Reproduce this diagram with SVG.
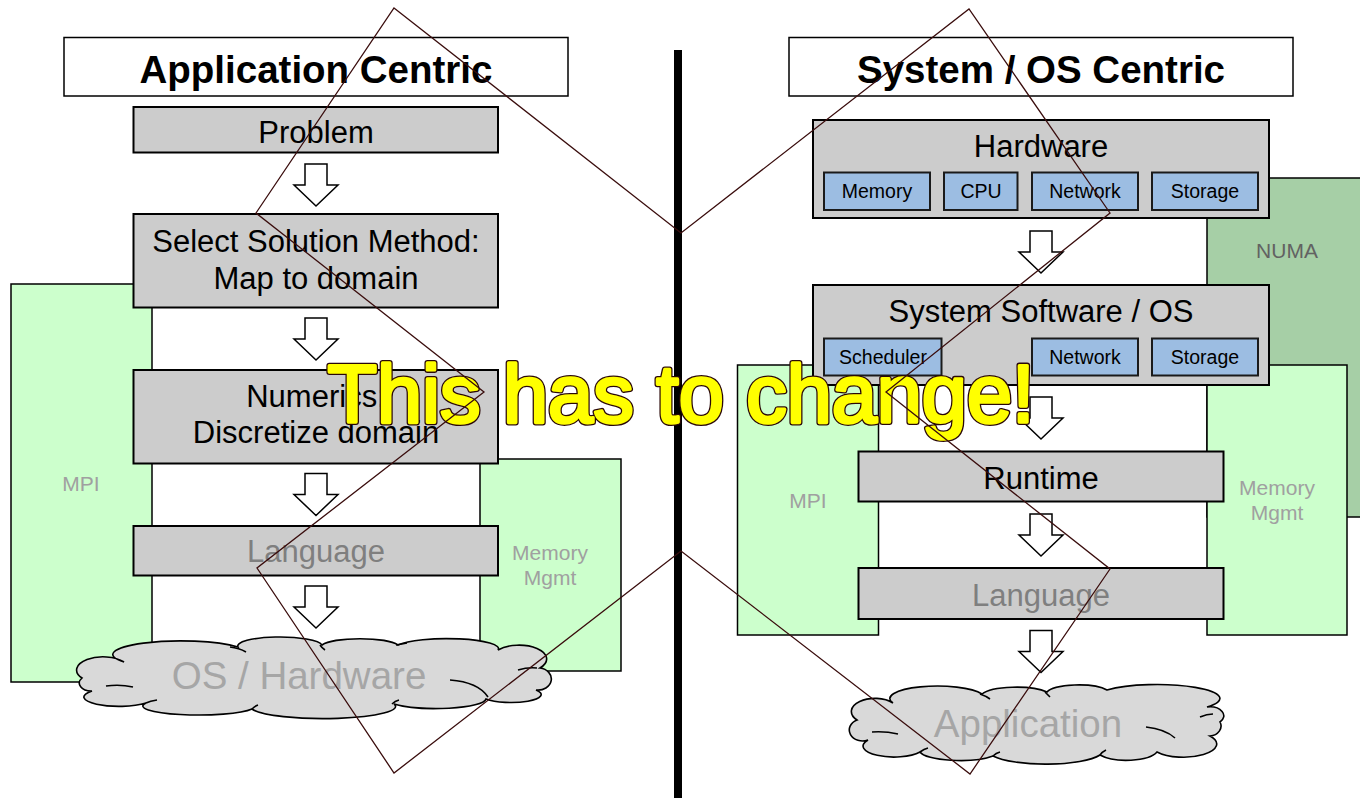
<svg xmlns="http://www.w3.org/2000/svg" width="1360" height="798" viewBox="0 0 1360 798">
  <defs>
    <style>
      text { font-family: 'Liberation Sans', Arial, sans-serif; }
      .title-box { fill: #ffffff; stroke: #000000; stroke-width: 1.5; }
      .title { font-size: 38.5px; font-weight: bold; fill: #000000; text-anchor: middle; }
      .step { fill: #cccccc; stroke: #000000; stroke-width: 2; }
      .step-label { font-size: 31px; fill: #000000; text-anchor: middle; }
      .step-label.dim { fill: #7f7f7f; }
      .part { fill: #9cbde2; stroke: #1a1a1a; stroke-width: 2; }
      .part-label { font-size: 19.5px; fill: #000000; text-anchor: middle; }
      .span { fill: #ccffcc; stroke: #000000; stroke-width: 1.5; }
      .numa { fill: #a6cfa6; stroke: #000000; stroke-width: 1.5; }
      .span-label { font-size: 21px; fill: #a0a0a0; text-anchor: middle; }
      .numa-label { font-size: 21px; fill: #626262; text-anchor: middle; }
      .flow { fill: #ffffff; stroke: #000000; stroke-width: 1.5; stroke-linejoin: miter; }
      .cloud { fill: #d9d9d9; stroke: #000000; stroke-width: 1.6; }
      .cloud-mark { fill: none; stroke: #000000; stroke-width: 1.6; }
      .cloud-label { font-size: 38.5px; fill: #a6a6a6; text-anchor: middle; }
      .banner-outline { font-size: 81px; fill: none; stroke: #2a0808; stroke-width: 6; stroke-linejoin: round; text-anchor: middle; }
      .banner-fill { font-size: 81px; fill: #ffff00; stroke: #ffff00; stroke-width: 3.4; stroke-linejoin: round; text-anchor: middle; }
      .cross { fill: none; stroke: #3a0d0d; stroke-width: 1.3; stroke-linejoin: miter; }
    </style>
    <!-- hollow down arrow, tip at (0,42) -->
    <polygon id="down" points="-11,0 11,0 11,21 22,21 0,42 -22,21 -11,21"/>
  </defs>

  <rect x="0" y="0" width="1360" height="798" fill="#ffffff"/>

  <!-- ===== Left half: application centric ===== -->
  <g id="left-mpi">
    <rect class="span" x="11" y="284" width="141" height="398"/>
    <text class="span-label" x="81" y="491">MPI</text>
  </g>
  <g id="left-memory-mgmt">
    <rect class="span" x="480" y="459" width="141" height="212"/>
    <text class="span-label" x="550" y="560">Memory</text>
    <text class="span-label" x="550" y="585">Mgmt</text>
  </g>

  <g id="left-title">
    <rect class="title-box" x="64" y="37.5" width="504" height="58.5"/>
    <text class="title" x="316" y="83">Application Centric</text>
  </g>
  <g id="problem">
    <rect class="step" x="133.5" y="107" width="364.5" height="45.5"/>
    <text class="step-label" x="316" y="143">Problem</text>
  </g>
  <g id="select-method">
    <rect class="step" x="133.5" y="214" width="364.5" height="93.5"/>
    <text class="step-label" x="316" y="252">Select Solution Method:</text>
    <text class="step-label" x="316" y="289">Map to domain</text>
  </g>
  <g id="numerics">
    <rect class="step" x="133.5" y="370" width="364.5" height="93.5"/>
    <text class="step-label" x="316" y="407">Numerics:</text>
    <text class="step-label" x="316" y="443">Discretize domain</text>
  </g>
  <g id="left-language">
    <rect class="step" x="133.5" y="526" width="364.5" height="49.5"/>
    <text class="step-label dim" x="316" y="562">Language</text>
  </g>
  <g id="os-hardware">
    <path class="cloud" d="M82,678 A24,12 0 0 1 124,662 A60,12 0 0 1 238,647 A42,9 0 0 1 322,645 A40,9 0 0 1 398,645 A52,10 0 0 1 498,650 A24,12 0 0 1 540,668 A12,10 0 0 1 536,690 A30,8 0 0 1 486,699 A50,10 0 0 1 394,704 A72,12 0 0 1 252,709 A56,9 0 0 1 146,703 A30,8 0 0 1 92,691 A12,8 0 0 1 82,678 Z"/>
    <path class="cloud-mark" d="M106,686 Q120,684 133,687 M230,647 Q239,648 246,652 M320,645 Q322,648 325,650 M396,645 Q402,644 407,643 M450,680 Q478,682 488,697 M518,670 Q528,667 537,668 M146,703 Q150,701 157,700 M252,709 Q255,706 258,705 M392,704 Q395,701 399,700"/>
    <text class="cloud-label" x="299" y="689">OS / Hardware</text>
  </g>

  <!-- ===== Right half: system / OS centric ===== -->
  <g id="numa">
    <rect class="numa" x="1207" y="178" width="160" height="339"/>
    <text class="numa-label" x="1287" y="258">NUMA</text>
  </g>
  <g id="right-mpi">
    <rect class="span" x="737.5" y="365" width="141" height="270"/>
    <text class="span-label" x="808" y="508">MPI</text>
  </g>
  <g id="right-memory-mgmt">
    <rect class="span" x="1207" y="365" width="140" height="270"/>
    <text class="span-label" x="1277" y="495">Memory</text>
    <text class="span-label" x="1277" y="520">Mgmt</text>
  </g>

  <g id="right-title">
    <rect class="title-box" x="789" y="37.5" width="504" height="58.5"/>
    <text class="title" x="1041" y="83">System / OS Centric</text>
  </g>
  <g id="hardware">
    <rect class="step" x="813" y="120" width="456" height="98"/>
    <text class="step-label" x="1041" y="157">Hardware</text>
    <rect class="part" x="824" y="172.5" width="106" height="37.5"/>
    <text class="part-label" x="877" y="198">Memory</text>
    <rect class="part" x="944" y="172.5" width="73.5" height="37.5"/>
    <text class="part-label" x="981" y="198">CPU</text>
    <rect class="part" x="1032" y="172.5" width="106" height="37.5"/>
    <text class="part-label" x="1085" y="198">Network</text>
    <rect class="part" x="1152" y="172.5" width="106" height="37.5"/>
    <text class="part-label" x="1205" y="198">Storage</text>
  </g>
  <g id="system-software">
    <rect class="step" x="813" y="285" width="456" height="100"/>
    <text class="step-label" x="1041" y="322">System Software / OS</text>
    <rect class="part" x="824" y="338.5" width="117.5" height="37"/>
    <text class="part-label" x="883" y="364">Scheduler</text>
    <rect class="part" x="1032" y="338.5" width="106" height="37"/>
    <text class="part-label" x="1085" y="364">Network</text>
    <rect class="part" x="1152" y="338.5" width="106" height="37"/>
    <text class="part-label" x="1205" y="364">Storage</text>
  </g>
  <g id="runtime">
    <rect class="step" x="858.5" y="451.5" width="365" height="50"/>
    <text class="step-label" x="1041" y="489">Runtime</text>
  </g>
  <g id="right-language">
    <rect class="step" x="858.5" y="568" width="365" height="51"/>
    <text class="step-label dim" x="1041" y="606">Language</text>
  </g>
  <g id="application">
    <path class="cloud" d="M857,720 A18,10 0 0 1 893,703 A46,12 0 0 1 982,694 A36,10 0 0 1 1047,692 A32,9 0 0 1 1107,690 A54,12 0 0 1 1207,707 A14,9 0 0 1 1220,722 A12,10 0 0 1 1210,736 A30,12 0 0 1 1157,752 A32,12 0 0 1 1100,755 A58,14 0 0 1 993,756 A40,10 0 0 1 920,752 A28,10 0 0 1 868,740 A12,10 0 0 1 857,720 Z"/>
    <path class="cloud-mark" d="M872,732 Q885,731 898,734 M980,694 Q986,696 990,699 M1045,692 Q1048,695 1050,697 M1146,727 Q1165,729 1175,738 M1200,717 Q1207,714 1213,714 M920,752 Q924,749 928,748 M993,756 Q996,753 1000,752 M1100,755 Q1102,752 1106,750"/>
    <text class="cloud-label" x="1028" y="737">Application</text>
  </g>

  <!-- flow arrows between the stacked steps -->
  <g id="connectors">
    <use href="#down" class="flow" x="316" y="164"/>
    <use href="#down" class="flow" x="316" y="318"/>
    <use href="#down" class="flow" x="316" y="473.5"/>
    <use href="#down" class="flow" x="316" y="586"/>
    <use href="#down" class="flow" x="1041" y="231"/>
    <use href="#down" class="flow" x="1041" y="397"/>
    <use href="#down" class="flow" x="1041" y="514"/>
    <use href="#down" class="flow" x="1041" y="630.5"/>
  </g>

  <!-- divider between the two halves -->
  <rect id="divider" x="674" y="50" width="8" height="748" fill="#000000"/>

  <!-- overlay message -->
  <g id="banner">
    <text class="banner-outline" x="681" y="422">This has to change!</text>
    <text class="banner-fill" x="681" y="422">This has to change!</text>
  </g>

  <!-- large cross outline over everything -->
  <polygon id="cross" class="cross" points="394,8 681,233 969,9 1110,213 886,392 1110,569 970,774 681,551 394,773 257,568 484,392 256,213"/>
</svg>
